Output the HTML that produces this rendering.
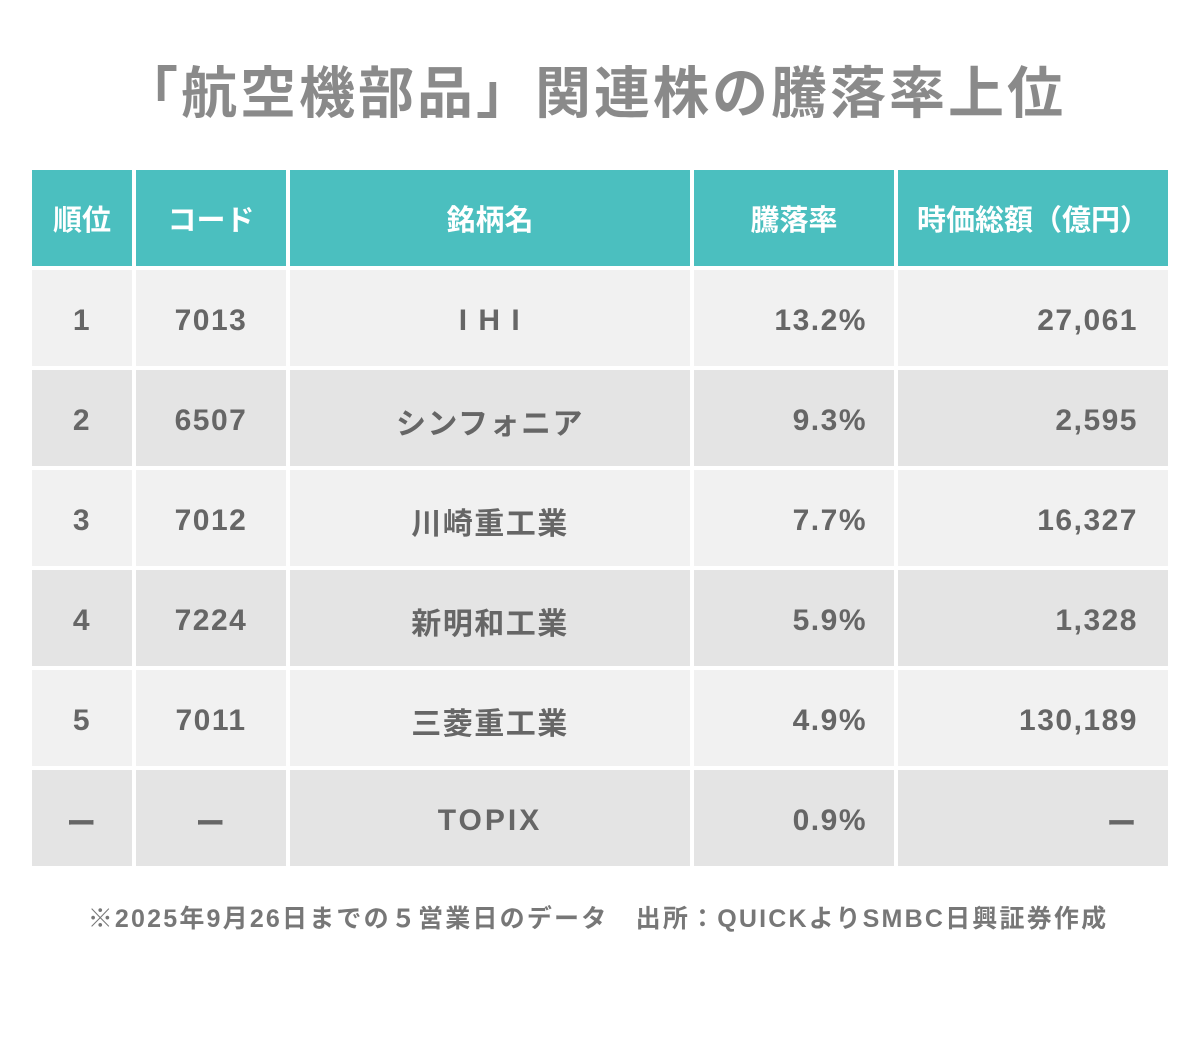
<!DOCTYPE html>
<html><head><meta charset="utf-8"><style>
body{margin:0;width:1200px;height:1064px;background:#fff;position:relative;font-family:"Liberation Sans","Noto Sans CJK JP",sans-serif;overflow:hidden}
.t{position:absolute;left:-6px;width:1200px;top:58px;text-align:center;font-size:56px;font-weight:bold;color:#8a8a8a;line-height:72px;letter-spacing:3px}
.c{position:absolute;display:flex;align-items:center;justify-content:center;font-size:30px;color:#666;box-sizing:border-box;font-weight:bold;letter-spacing:1.5px;padding-top:5px}
.h{background:#4bbfbf;color:#fff;font-weight:bold;font-size:29px;letter-spacing:0;padding-top:0}
.r{justify-content:flex-end}
.f{position:absolute;left:-2px;width:1200px;top:901px;text-align:center;font-size:25px;font-weight:bold;color:#777;line-height:36px;letter-spacing:2.2px}
</style></head><body>
<div class="t">「航空機部品」関連株の騰落率上位</div>
<div id="tb"></div>
<div class="f">※2025年9月26日までの５営業日のデータ　出所：QUICKよりSMBC日興証券作成</div>
<script>
var cols=[[32,100],[136,150],[290,400],[694,200],[898,270]];
var rows=[["順位","コード","銘柄名","騰落率","時価総額（億円）"],
["1","7013","I H I","13.2%","27,061"],
["2","6507","シンフォニア","9.3%","2,595"],
["3","7012","川崎重工業","7.7%","16,327"],
["4","7224","新明和工業","5.9%","1,328"],
["5","7011","三菱重工業","4.9%","130,189"],
["ー","ー","TOPIX","0.9%","ー"]];
var h='';
for(var i=0;i<rows.length;i++){
 var y=170+i*100, ht=96;
 var bg=i==0?'':(i%2==1?'background:#f1f1f1;':'background:#e4e4e4;');
 for(var j=0;j<5;j++){
  var cls='c'+(i==0?' h':'')+(i>0&&j>=3?' r':'');
  var pr=(i>0&&j==3)?'padding-right:27px;':(i>0&&j==4)?'padding-right:30px;':'';
  var ls=(i>0&&j==2&&i==6)?'letter-spacing:3px;':'';
  h+='<div class="'+cls+'" style="left:'+cols[j][0]+'px;top:'+y+'px;width:'+cols[j][1]+'px;height:'+ht+'px;'+bg+pr+ls+'">'+rows[i][j]+'</div>';
 }
}
document.getElementById('tb').innerHTML=h;
</script>
</body></html>
